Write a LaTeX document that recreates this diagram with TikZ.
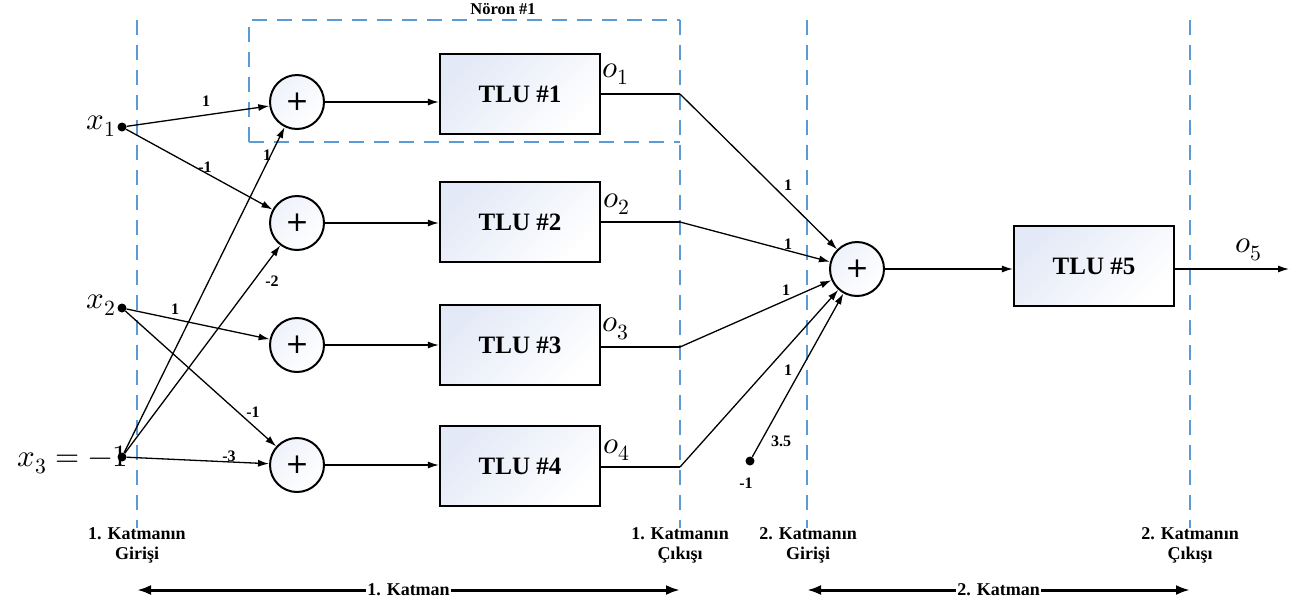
\documentclass[tikz,border=0pt]{standalone}
\usepackage{fontspec}
\usepackage{unicode-math}
\setmainfont{Liberation Serif}
\setmathfont{Latin Modern Math}
\newfontfamily\plusfont{DejaVu Sans}
\usetikzlibrary{arrows.meta}
\definecolor{guide}{RGB}{91,155,213}
\definecolor{tlublue}{RGB}{222,229,245}
\tikzset{
  tip/.tip={Latex[length=11pt,width=7pt]},
  conn/.style={line width=1.3pt,-tip},
  plainline/.style={line width=1.3pt},
  sumnode/.style={circle,draw,line width=2pt,minimum size=54pt,inner sep=0pt,
    top color=tlublue!50,bottom color=white,shading angle=45,
    font=\fontsize{28}{28}\plusfont},
  tlubox/.style={rectangle,draw,line width=2.2pt,minimum width=160pt,minimum height=80pt,
    top color=tlublue!85,bottom color=white,shading angle=45,
    font=\fontsize{25}{25}\selectfont\bfseries},
  dot/.style={circle,fill=black,minimum size=9pt,inner sep=0pt},
  wlabel/.style={font=\fontsize{16}{16}\selectfont\bfseries,inner sep=1pt},
  mathlabel/.style={font=\fontsize{31}{31}\selectfont,inner sep=0pt},
  guideline/.style={guide,line width=2pt,dash pattern=on 15pt off 10pt},
  caption/.style={font=\fontsize{18}{20}\selectfont\bfseries,align=center},
  spanlabel/.style={midway,fill=white,inner sep=1pt,font=\fontsize{18}{18}\selectfont\bfseries},
  span/.style={line width=3pt,{Latex[length=14pt,width=10pt]}-{Latex[length=14pt,width=10pt]}},
}
\begin{document}
\begin{tikzpicture}[x=1pt,y=-1pt]
\useasboundingbox (0,0) rectangle (1313,606);

% layer guides
\draw[guideline] (137,20) -- (137,528);
\draw[guideline] (680,20) -- (680,528);
\draw[guideline] (807,20) -- (807,528);
\draw[guideline] (1190,20) -- (1190,528);
\draw[guideline] (249,142) -- (249,20) -- (680,20);
\draw[guideline] (249,142) -- (680,142);
\node[font=\fontsize{16.5}{16.5}\selectfont\bfseries] (neuronlbl) at (503,9) {Nöron \#1};

% inputs
\node[dot] (x1) at (122,127) {};
\node[dot] (x2) at (122,308) {};
\node[dot] (x3) at (122,457) {};
\node[mathlabel,anchor=east] (x1lbl) at (116,126) {$x_1$};
\node[mathlabel,anchor=east] (x2lbl) at (116,305) {$x_2$};
\node[mathlabel,anchor=east] (x3lbl) at (128,460) {$x_3=-1$};

% first-layer summers and threshold units
\node[sumnode] (s1) at (297,102) {+};
\node[sumnode] (s2) at (297,223) {+};
\node[sumnode] (s3) at (297,345) {+};
\node[sumnode] (s4) at (297,465) {+};
\node[tlubox] (t1) at (520,94) {TLU \#1};
\node[tlubox] (t2) at (520,222) {TLU \#2};
\node[tlubox] (t3) at (520,345) {TLU \#3};
\node[tlubox] (t4) at (520,466) {TLU \#4};

\foreach \i in {1,2,3,4} {\draw[conn] (s\i) -- (s\i -| t\i.west);}

% weighted inputs
\draw[conn] (x1) -- (s1);
\draw[conn] (x1) -- (s2);
\draw[conn] (x3) -- (s1);
\draw[conn] (x3) -- (s2);
\draw[conn] (x2) -- (s3);
\draw[conn] (x2) -- (s4);
\draw[conn] (x3) -- (s4);
\node[wlabel] (w11) at (206,101) {1};
\node[wlabel] (w12) at (205,167) {-1};
\node[wlabel] (w31) at (267,155) {1};
\node[wlabel] (w32) at (272,281) {-2};
\node[wlabel] (w23) at (175,309) {1};
\node[wlabel] (w24) at (253,412) {-1};
\node[wlabel] (w34) at (229,456) {-3};

% first-layer outputs
\coordinate (o1c) at (680,94);
\coordinate (o2c) at (680,222);
\coordinate (o3c) at (680,347);
\coordinate (o4c) at (680,467);
\draw[plainline] (t1.east |- o1c) -- (o1c);
\draw[plainline] (t2.east |- o2c) -- (o2c);
\draw[plainline] (t3.east |- o3c) -- (o3c);
\draw[plainline] (t4.east |- o4c) -- (o4c);
\node[mathlabel] (o1lbl) at (616,74) {$o_1$};
\node[mathlabel] (o2lbl) at (617,204) {$o_2$};
\node[mathlabel] (o3lbl) at (616,329) {$o_3$};
\node[mathlabel] (o4lbl) at (617,450) {$o_4$};

% second layer
\node[sumnode] (s5) at (857,269) {+};
\node[tlubox] (t5) at (1094,266) {TLU \#5};
\node[dot] (bias) at (750,461) {};
\node[wlabel] (biaslbl) at (746,483) {-1};
\draw[conn] (o1c) -- (s5);
\draw[conn] (o2c) -- (s5);
\draw[conn] (o3c) -- (s5);
\draw[conn] (o4c) -- (s5);
\draw[conn] (bias) -- (s5);
\node[wlabel] (v1) at (788,185) {1};
\node[wlabel] (v2) at (788,244) {1};
\node[wlabel] (v3) at (786,290) {1};
\node[wlabel] (v4) at (788,370) {1};
\node[wlabel] (vb) at (781,441) {3.5};
\draw[conn] (s5) -- (s5 -| t5.west);
\coordinate (out) at (1289,269);
\draw[conn] (s5 -| t5.east) -- (out);
\node[mathlabel] (o5lbl) at (1249,250) {$o_5$};

% captions
\node[caption] (c1) at (137,545) {1. Katmanın\\Girişi};
\node[caption] (c2) at (680,545) {1. Katmanın\\Çıkışı};
\node[caption] (c3) at (808,545) {2. Katmanın\\Girişi};
\node[caption] (c4) at (1190,545) {2. Katmanın\\Çıkışı};
\coordinate (a1) at (137,590);
\coordinate (a2) at (680,590);
\coordinate (b1) at (807,590);
\coordinate (b2) at (1190,590);
\draw[span] (a1) -- (a2) node[spanlabel] (k1) {1. Katman};
\draw[span] (b1) -- (b2) node[spanlabel] (k2) {2. Katman};
\end{tikzpicture}
\end{document}
